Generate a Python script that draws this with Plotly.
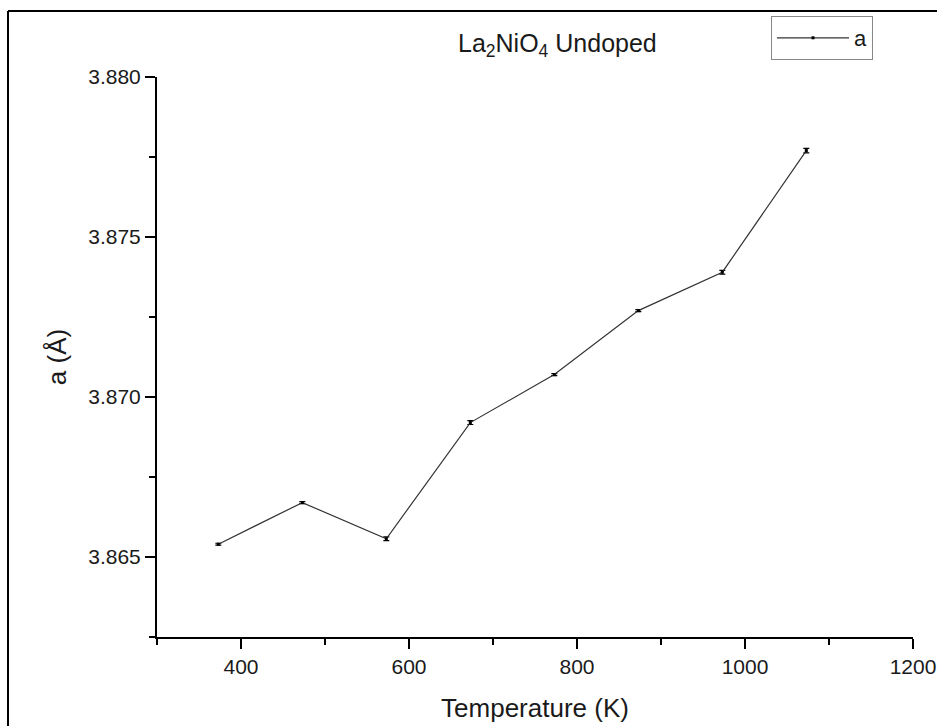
import plotly.graph_objects as go

temperature = [373, 473, 573, 673, 773, 873, 973, 1073]
a_values = [3.8654, 3.8667, 3.86557, 3.8692, 3.8707, 3.8727, 3.8739, 3.8777]
a_errors = [0.00003, 0.00003, 0.00006, 0.00006, 0.00003, 0.00003, 0.00006, 0.00007]
x_ticks = [400, 600, 800, 1000, 1200]
y_ticks = [3.865, 3.870, 3.875, 3.880]

W, H = 937, 726
L, R, T, B = 157, 913, 77, 637
pw, ph = R - L, B - T

def px(x):
    return (x - L) / pw

def py(y):
    return (B - y) / ph

FONT = "Liberation Sans, Arial, sans-serif"
TXT = "#1a1a1a"

fig = go.Figure()
fig.add_trace(go.Scatter(
    x=temperature, y=a_values, mode="lines+markers", name="a",
    line=dict(color="#333333", width=1.2),
    marker=dict(symbol="square", size=3, color="black"),
    error_y=dict(type="data", array=a_errors, visible=True, color="black", thickness=1.2, width=3),
))

axis_common = dict(
    showgrid=False, zeroline=False, showline=True, linecolor="black", linewidth=2,
    ticks="outside", ticklen=10, tickwidth=2, tickcolor="black",
    tickfont=dict(family=FONT, size=21, color=TXT), mirror=False, automargin=False,
)

fig.update_xaxes(
    range=[300, 1200], tickvals=x_ticks, ticktext=[str(v) for v in x_ticks],
    minor=dict(ticks="outside", ticklen=6, tickwidth=2, tickcolor="black", dtick=100, tick0=0),
    title=dict(text="Temperature (K)", font=dict(family=FONT, size=26, color=TXT), standoff=22),
    **axis_common,
)
fig.update_yaxes(
    range=[3.8625, 3.880], tickvals=y_ticks, ticktext=[f"{v:.3f}" for v in y_ticks],
    minor=dict(ticks="outside", ticklen=6, tickwidth=2, tickcolor="black", dtick=0.0025, tick0=3.8625),
    title=dict(text="a (Å)", font=dict(family=FONT, size=26, color=TXT), standoff=14),
    **axis_common,
)

fig.add_annotation(
    text="La<sub>2</sub>NiO<sub>4</sub> Undoped", xref="paper", yref="paper",
    x=px(557), y=py(45), showarrow=False, xanchor="center", yanchor="middle",
    font=dict(family=FONT, size=25, color=TXT),
)

# outer frame (top and left edges visible in the reference)
fig.add_shape(type="line", xref="paper", yref="paper",
              x0=px(8), x1=px(1000), y0=py(11), y1=py(11),
              line=dict(color="black", width=2))
fig.add_shape(type="line", xref="paper", yref="paper",
              x0=px(8), x1=px(8), y0=py(11), y1=py(800),
              line=dict(color="black", width=2))

fig.update_layout(
    width=W, height=H,
    margin=dict(l=L, r=W - R, t=T, b=H - B, pad=0, autoexpand=False),
    paper_bgcolor="white", plot_bgcolor="white",
    showlegend=True,
    legend=dict(
        x=px(771), y=py(16), xanchor="left", yanchor="top",
        bordercolor="#888888", borderwidth=1, bgcolor="white",
        font=dict(family=FONT, size=22, color=TXT),
        itemwidth=72, tracegroupgap=0,
    ),
)

fig.write_html("out.html")
